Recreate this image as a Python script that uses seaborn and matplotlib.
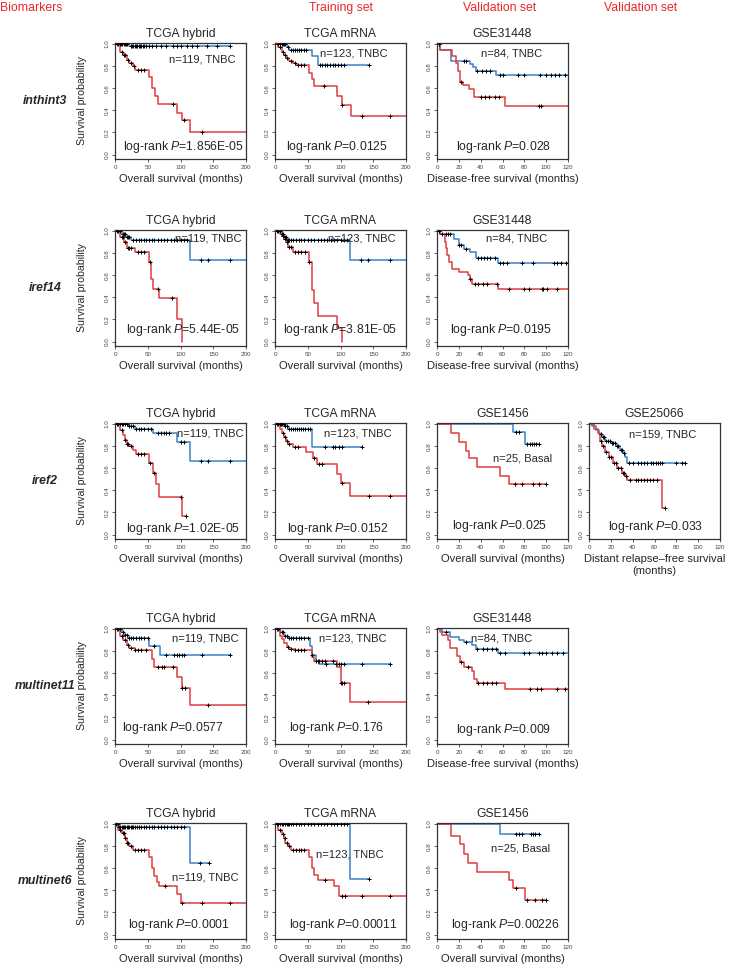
import numpy as np
import matplotlib
matplotlib.use("Agg")
import matplotlib.pyplot as plt
import seaborn as sns

# ---- data: step curves (time, survival), censor times ----
# inthint3
inth_hyb_blue_t = [0, 22, 175]
inth_hyb_blue_s = [1.0, 0.98, 0.98]
inth_hyb_blue_c = [3, 5, 7, 9, 11, 13, 15, 17, 19, 24, 26, 28, 30, 32, 34, 36, 38, 40, 42, 45, 48, 52, 56, 62, 70, 78, 88, 95, 100, 110, 118, 125, 140, 155, 175]
inth_hyb_red_t = [0, 8, 12, 18, 22, 27, 31, 52, 56, 61, 66, 94, 102, 115, 200]
inth_hyb_red_s = [1.0, 0.93, 0.90, 0.86, 0.83, 0.80, 0.77, 0.70, 0.60, 0.53, 0.46, 0.38, 0.31, 0.20, 0.20]
inth_hyb_red_c = [10, 14, 16, 20, 24, 29, 35, 40, 45, 88, 105, 133]

inth_mrna_blue_t = [0, 18, 22, 56, 66, 143]
inth_mrna_blue_s = [1.0, 0.97, 0.95, 0.89, 0.81, 0.81]
inth_mrna_blue_c = [5, 8, 10, 12, 14, 16, 20, 24, 27, 30, 33, 36, 40, 44, 48, 68, 72, 76, 80, 84, 88, 92, 96, 100, 105, 143]
inth_mrna_red_t = [0, 5, 10, 13, 17, 22, 27, 32, 52, 56, 60, 95, 102, 116, 200]
inth_mrna_red_s = [1.0, 0.97, 0.93, 0.90, 0.87, 0.85, 0.83, 0.81, 0.74, 0.68, 0.62, 0.53, 0.45, 0.35, 0.35]
inth_mrna_red_c = [8, 12, 15, 19, 24, 30, 35, 40, 45, 75, 103, 133, 175]

inth_gse_blue_t = [0, 3, 13, 30, 33, 36, 54, 120]
inth_gse_blue_s = [1.0, 0.95, 0.85, 0.82, 0.79, 0.76, 0.72, 0.72]
inth_gse_blue_c = [2, 25, 27, 37, 41, 45, 49, 58, 60, 74, 80, 94, 100, 104, 108, 112, 117]
inth_gse_red_t = [0, 3, 14, 17, 19, 21, 24, 29, 34, 62, 120]
inth_gse_red_s = [1.0, 0.95, 0.89, 0.83, 0.76, 0.66, 0.63, 0.59, 0.52, 0.44, 0.44]
inth_gse_red_c = [2, 22, 40, 44, 48, 53, 57, 93, 95]

# iref14
iref14_hyb_blue_t = [0, 10, 17, 25, 115, 200]
iref14_hyb_blue_s = [1.0, 0.97, 0.95, 0.92, 0.74, 0.74]
iref14_hyb_blue_c = [3, 5, 8, 12, 14, 16, 18, 20, 22, 28, 32, 36, 40, 44, 48, 52, 56, 60, 65, 70, 75, 80, 85, 90, 95, 100, 105, 110, 132, 142, 175]
iref14_hyb_red_t = [0, 8, 14, 18, 30, 52, 55, 58, 67, 94, 102]
iref14_hyb_red_s = [1.0, 0.95, 0.90, 0.85, 0.81, 0.72, 0.57, 0.48, 0.39, 0.20, 0.0]
iref14_hyb_red_c = [10, 12, 15, 20, 22, 25, 35, 40, 45, 53, 65, 87]

iref14_mrna_blue_t = [0, 8, 14, 18, 115, 200]
iref14_mrna_blue_s = [1.0, 0.97, 0.95, 0.92, 0.74, 0.74]
iref14_mrna_blue_c = [3, 5, 7, 10, 12, 15, 17, 20, 22, 25, 28, 32, 36, 40, 45, 50, 55, 60, 65, 70, 75, 80, 85, 90, 95, 100, 105, 110, 132, 142, 175]
iref14_mrna_red_t = [0, 10, 14, 18, 20, 28, 52, 56, 60, 66, 95, 102]
iref14_mrna_red_s = [1.0, 0.96, 0.93, 0.90, 0.86, 0.81, 0.72, 0.47, 0.35, 0.23, 0.12, 0.0]
iref14_mrna_red_c = [12, 16, 19, 22, 25, 31, 35, 40, 46, 52]

iref14_gse_blue_t = [0, 3, 16, 20, 25, 30, 36, 56, 120]
iref14_gse_blue_s = [1.0, 0.97, 0.93, 0.87, 0.84, 0.81, 0.76, 0.71, 0.71]
iref14_gse_blue_c = [2, 5, 8, 10, 12, 20, 22, 27, 38, 40, 43, 46, 49, 53, 58, 60, 64, 78, 88, 107, 110, 114, 118]
iref14_gse_red_t = [0, 3, 7, 8, 9, 11, 14, 20, 28, 30, 32, 56, 120]
iref14_gse_red_s = [1.0, 0.97, 0.90, 0.85, 0.78, 0.72, 0.66, 0.63, 0.60, 0.57, 0.52, 0.48, 0.48]
iref14_gse_red_c = [2, 30, 35, 38, 42, 46, 55, 66, 80, 84, 96, 97, 101, 110]

# iref2
iref2_hyb_blue_t = [0, 20, 30, 58, 95, 115, 200]
iref2_hyb_blue_s = [1.0, 0.98, 0.96, 0.92, 0.84, 0.67, 0.67]
iref2_hyb_blue_c = [3, 5, 8, 10, 12, 15, 18, 22, 25, 28, 32, 36, 40, 45, 50, 55, 65, 70, 75, 78, 82, 100, 105, 132, 142, 175]
iref2_hyb_red_t = [0, 7, 12, 15, 18, 22, 27, 32, 52, 58, 62, 67, 103, 108]
iref2_hyb_red_s = [1.0, 0.95, 0.90, 0.86, 0.82, 0.80, 0.77, 0.73, 0.65, 0.56, 0.46, 0.34, 0.17, 0.17]
iref2_hyb_red_c = [10, 15, 18, 20, 25, 35, 40, 45, 53, 60, 100, 108]

iref2_mrna_blue_t = [0, 14, 20, 56, 133]
iref2_mrna_blue_s = [1.0, 0.98, 0.96, 0.79, 0.79]
iref2_mrna_blue_c = [3, 5, 7, 9, 11, 13, 16, 18, 22, 25, 28, 31, 34, 37, 40, 43, 46, 50, 54, 77, 88, 92, 97, 102, 133]
iref2_mrna_red_t = [0, 7, 10, 13, 17, 20, 28, 47, 58, 64, 95, 100, 115, 200]
iref2_mrna_red_s = [1.0, 0.96, 0.92, 0.88, 0.85, 0.82, 0.79, 0.75, 0.69, 0.64, 0.55, 0.47, 0.35, 0.35]
iref2_mrna_red_c = [12, 15, 18, 22, 30, 35, 60, 67, 72, 103, 143, 175]

iref2_g1456_blue_t = [0, 70, 81, 93]
iref2_g1456_blue_s = [1.0, 0.93, 0.82, 0.82]
iref2_g1456_blue_c = [72, 75, 82, 85, 87, 89, 91, 93]
iref2_g1456_red_t = [0, 13, 20, 27, 29, 37, 58, 66, 100]
iref2_g1456_red_s = [1.0, 0.92, 0.84, 0.76, 0.69, 0.61, 0.53, 0.46, 0.46]
iref2_g1456_red_c = [71, 78, 88, 93, 100]

iref2_g25066_blue_t = [0, 3, 6, 9, 12, 15, 20, 25, 28, 31, 33, 35, 88]
iref2_g25066_blue_s = [1.0, 0.98, 0.95, 0.91, 0.88, 0.85, 0.83, 0.80, 0.77, 0.74, 0.70, 0.65, 0.65]
iref2_g25066_blue_c = [11, 13, 14, 16, 17, 19, 21, 22, 24, 26, 27, 29, 30, 32, 37, 40, 45, 48, 50, 53, 57, 59, 61, 63, 65, 67, 80, 85, 88]
iref2_g25066_red_t = [0, 5, 8, 10, 12, 15, 18, 22, 26, 30, 33, 35, 67, 70]
iref2_g25066_red_s = [1.0, 0.96, 0.92, 0.85, 0.80, 0.75, 0.70, 0.65, 0.60, 0.56, 0.53, 0.49, 0.24, 0.24]
iref2_g25066_red_c = [11, 13, 16, 18, 20, 23, 25, 27, 29, 31, 32, 34, 38, 43, 45, 48, 50, 53, 56, 59, 62, 70]

# multinet11
mn11_hyb_blue_t = [0, 10, 13, 20, 52, 68, 175]
mn11_hyb_blue_s = [1.0, 0.97, 0.95, 0.92, 0.85, 0.77, 0.77]
mn11_hyb_blue_c = [3, 5, 8, 12, 15, 18, 22, 25, 28, 32, 36, 40, 45, 50, 60, 78, 90, 95, 98, 102, 106, 133, 175]
mn11_hyb_red_t = [0, 7, 12, 18, 22, 30, 56, 60, 95, 102, 115, 200]
mn11_hyb_red_s = [1.0, 0.94, 0.90, 0.86, 0.83, 0.81, 0.73, 0.66, 0.57, 0.47, 0.31, 0.31]
mn11_hyb_red_c = [10, 15, 20, 25, 30, 35, 40, 48, 65, 72, 75, 88, 103, 107, 142]

mn11_mrna_blue_t = [0, 8, 14, 20, 53, 57, 62, 67, 175]
mn11_mrna_blue_s = [1.0, 0.97, 0.94, 0.92, 0.85, 0.77, 0.71, 0.68, 0.68]
mn11_mrna_blue_c = [3, 5, 10, 12, 16, 18, 22, 25, 28, 32, 36, 40, 45, 50, 57, 65, 78, 93, 97, 100, 105, 133, 175]
mn11_mrna_red_t = [0, 7, 10, 14, 18, 22, 30, 56, 60, 95, 100, 115, 200]
mn11_mrna_red_s = [1.0, 0.94, 0.91, 0.87, 0.84, 0.82, 0.81, 0.75, 0.71, 0.66, 0.51, 0.34, 0.34]
mn11_mrna_red_c = [20, 25, 30, 35, 40, 45, 62, 67, 72, 77, 88, 100, 103, 105, 142]

mn11_gse_blue_t = [0, 3, 12, 20, 25, 32, 36, 56, 120]
mn11_gse_blue_s = [1.0, 0.97, 0.93, 0.90, 0.88, 0.86, 0.82, 0.78, 0.78]
mn11_gse_blue_c = [8, 27, 37, 42, 46, 50, 54, 58, 62, 80, 84, 93, 96, 100, 105, 110, 115]
mn11_gse_red_t = [0, 5, 10, 12, 18, 21, 25, 32, 34, 37, 62, 120]
mn11_gse_red_s = [1.0, 0.95, 0.90, 0.83, 0.76, 0.70, 0.66, 0.62, 0.55, 0.51, 0.46, 0.46]
mn11_gse_red_c = [22, 28, 38, 42, 46, 50, 54, 85, 92, 95, 110, 117]

# multinet6
mn6_hyb_blue_t = [0, 5, 115, 143]
mn6_hyb_blue_s = [1.0, 0.97, 0.65, 0.65]
mn6_hyb_blue_c = [2, 4, 6, 8, 10, 12, 14, 16, 18, 20, 22, 24, 26, 28, 30, 33, 36, 40, 44, 48, 52, 56, 60, 65, 70, 75, 80, 85, 90, 95, 100, 105, 130, 143]
mn6_hyb_red_t = [0, 5, 10, 15, 18, 22, 28, 52, 57, 60, 64, 67, 95, 101, 200]
mn6_hyb_red_s = [1.0, 0.95, 0.92, 0.87, 0.83, 0.80, 0.77, 0.70, 0.60, 0.53, 0.48, 0.44, 0.37, 0.29, 0.29]
mn6_hyb_red_c = [8, 12, 14, 16, 18, 20, 24, 30, 35, 40, 45, 76, 102, 133, 175]

mn6_mrna_blue_t = [0, 115, 143]
mn6_mrna_blue_s = [1.0, 0.50, 0.50]
mn6_mrna_blue_c = [3, 5, 8, 10, 12, 15, 18, 20, 22, 25, 28, 32, 36, 40, 45, 50, 55, 60, 65, 70, 75, 80, 85, 90, 95, 100, 105, 110, 143]
mn6_mrna_red_t = [0, 5, 10, 13, 16, 20, 25, 52, 56, 60, 66, 90, 98, 200]
mn6_mrna_red_s = [1.0, 0.95, 0.91, 0.87, 0.83, 0.80, 0.77, 0.70, 0.60, 0.54, 0.49, 0.44, 0.35, 0.35]
mn6_mrna_red_c = [8, 12, 15, 18, 22, 28, 32, 36, 40, 45, 76, 102, 107, 133, 175]

mn6_g1456_blue_t = [0, 58, 93]
mn6_g1456_blue_s = [1.0, 0.91, 0.91]
mn6_g1456_blue_c = [72, 75, 78, 86, 88, 90, 93]
mn6_g1456_red_t = [0, 13, 21, 25, 28, 37, 66, 70, 81, 100]
mn6_g1456_red_s = [1.0, 0.89, 0.82, 0.73, 0.65, 0.57, 0.49, 0.42, 0.31, 0.31]
mn6_g1456_red_c = [72, 82, 90, 96, 100]

biomarkers = ["inthint3", "iref14", "iref2", "multinet11", "multinet6"]
headers = ["Biomarkers", "Training set", "Validation set", "Validation set"]

OS = "Overall survival (months)"
DFS = "Disease-free survival (months)"
DRFS = "Distant relapse\u2013free survival\n(months)"

# row, col, title, xmax, xlabel, curves, n-text (text, x, y), logrank (p, x, y)
panels = [
    (0, 0, "TCGA hybrid", 200, OS, (inth_hyb_blue_t, inth_hyb_blue_s, inth_hyb_blue_c, inth_hyb_red_t, inth_hyb_red_s, inth_hyb_red_c), ("n=119, TNBC", 0.92, 0.86), ("1.856E-05", 0.52, 0.10)),
    (0, 1, "TCGA mRNA", 200, OS, (inth_mrna_blue_t, inth_mrna_blue_s, inth_mrna_blue_c, inth_mrna_red_t, inth_mrna_red_s, inth_mrna_red_c), ("n=123, TNBC", 0.86, 0.91), ("0.0125", 0.47, 0.10)),
    (0, 2, "GSE31448", 120, DFS, (inth_gse_blue_t, inth_gse_blue_s, inth_gse_blue_c, inth_gse_red_t, inth_gse_red_s, inth_gse_red_c), ("n=84, TNBC", 0.80, 0.91), ("0.028", 0.51, 0.10)),
    (1, 0, "TCGA hybrid", 200, OS, (iref14_hyb_blue_t, iref14_hyb_blue_s, iref14_hyb_blue_c, iref14_hyb_red_t, iref14_hyb_red_s, iref14_hyb_red_c), ("n=119, TNBC", 0.97, 0.93), ("5.44E-05", 0.52, 0.14)),
    (1, 1, "TCGA mRNA", 200, OS, (iref14_mrna_blue_t, iref14_mrna_blue_s, iref14_mrna_blue_c, iref14_mrna_red_t, iref14_mrna_red_s, iref14_mrna_red_c), ("n=123, TNBC", 0.92, 0.93), ("3.81E-05", 0.50, 0.14)),
    (1, 2, "GSE31448", 120, DFS, (iref14_gse_blue_t, iref14_gse_blue_s, iref14_gse_blue_c, iref14_gse_red_t, iref14_gse_red_s, iref14_gse_red_c), ("n=84, TNBC", 0.84, 0.93), ("0.0195", 0.49, 0.14)),
    (2, 0, "TCGA hybrid", 200, OS, (iref2_hyb_blue_t, iref2_hyb_blue_s, iref2_hyb_blue_c, iref2_hyb_red_t, iref2_hyb_red_s, iref2_hyb_red_c), ("n=119, TNBC", 0.98, 0.91), ("1.02E-05", 0.52, 0.09)),
    (2, 1, "TCGA mRNA", 200, OS, (iref2_mrna_blue_t, iref2_mrna_blue_s, iref2_mrna_blue_c, iref2_mrna_red_t, iref2_mrna_red_s, iref2_mrna_red_c), ("n=123, TNBC", 0.89, 0.91), ("0.0152", 0.48, 0.09)),
    (2, 2, "GSE1456", 120, OS, (iref2_g1456_blue_t, iref2_g1456_blue_s, iref2_g1456_blue_c, iref2_g1456_red_t, iref2_g1456_red_s, iref2_g1456_red_c), ("n=25, Basal", 0.88, 0.69), ("0.025", 0.48, 0.11)),
    (2, 3, "GSE25066", 120, DRFS, (iref2_g25066_blue_t, iref2_g25066_blue_s, iref2_g25066_blue_c, iref2_g25066_red_t, iref2_g25066_red_s, iref2_g25066_red_c), ("n=159, TNBC", 0.82, 0.90), ("0.033", 0.51, 0.10)),
    (3, 0, "TCGA hybrid", 200, OS, (mn11_hyb_blue_t, mn11_hyb_blue_s, mn11_hyb_blue_c, mn11_hyb_red_t, mn11_hyb_red_s, mn11_hyb_red_c), ("n=119, TNBC", 0.94, 0.91), ("0.0577", 0.44, 0.14)),
    (3, 1, "TCGA mRNA", 200, OS, (mn11_mrna_blue_t, mn11_mrna_blue_s, mn11_mrna_blue_c, mn11_mrna_red_t, mn11_mrna_red_s, mn11_mrna_red_c), ("n=123, TNBC", 0.85, 0.91), ("0.176", 0.47, 0.14)),
    (3, 2, "GSE31448", 120, DFS, (mn11_gse_blue_t, mn11_gse_blue_s, mn11_gse_blue_c, mn11_gse_red_t, mn11_gse_red_s, mn11_gse_red_c), ("n=84, TNBC", 0.73, 0.91), ("0.009", 0.51, 0.12)),
    (4, 0, "TCGA hybrid", 200, OS, (mn6_hyb_blue_t, mn6_hyb_blue_s, mn6_hyb_blue_c, mn6_hyb_red_t, mn6_hyb_red_s, mn6_hyb_red_c), ("n=119, TNBC", 0.94, 0.53), ("0.0001", 0.49, 0.12)),
    (4, 1, "TCGA mRNA", 200, OS, (mn6_mrna_blue_t, mn6_mrna_blue_s, mn6_mrna_blue_c, mn6_mrna_red_t, mn6_mrna_red_s, mn6_mrna_red_c), ("n=123, TNBC", 0.83, 0.73), ("0.00011", 0.52, 0.12)),
    (4, 2, "GSE1456", 120, OS, (mn6_g1456_blue_t, mn6_g1456_blue_s, mn6_g1456_blue_c, mn6_g1456_red_t, mn6_g1456_red_s, mn6_g1456_red_c), ("n=25, Basal", 0.86, 0.78), ("0.00226", 0.52, 0.12)),
]

sns.set_style("ticks")
plt.rcParams["font.family"] = ["Liberation Sans", "DejaVu Sans"]
plt.rcParams["mathtext.fontset"] = "custom"
plt.rcParams["mathtext.rm"] = "Liberation Sans"
plt.rcParams["mathtext.it"] = "Liberation Sans:italic"

W, H = 729, 966
fig = plt.figure(figsize=(W / 100, H / 100), dpi=100)

col_left = [115, 275, 437, 589]
row_top = [43, 230, 423, 628, 823]
aw, ah = 131, 116
RED = "#e03c3f"
BLUE = "#3b82c8"
HEAD = "#e8262b"


def step_value(t, s, x):
    idx = np.searchsorted(t, x, side="right") - 1
    return np.asarray(s)[idx]


for row, col, title, xmax, xlabel, curves, ntext, lr in panels:
    ax = fig.add_axes([col_left[col] / W, 1 - (row_top[row] + ah) / H, aw / W, ah / H])
    bt, bs, bc, rt, rs, rc = curves
    sns.lineplot(x=bt, y=bs, drawstyle="steps-post", color=BLUE, lw=1.1, estimator=None, ax=ax)
    sns.lineplot(x=rt, y=rs, drawstyle="steps-post", color=RED, lw=1.1, estimator=None, ax=ax)
    for t, s, c in ((bt, bs, bc), (rt, rs, rc)):
        sns.scatterplot(x=c, y=step_value(t, s, c), marker="+", color="black", s=8,
                        linewidth=0.7, ax=ax, zorder=3)
    ax.set_xlim(0, xmax)
    ax.set_ylim(-0.04, 1.01)
    ax.set_xticks(np.arange(0, xmax + 1, 50 if xmax == 200 else 20))
    ax.set_yticks(np.arange(0, 1.01, 0.2))
    ax.set_yticklabels([f"{v:.1f}" for v in np.arange(0, 1.01, 0.2)], rotation=90, va="center")
    ax.tick_params(labelsize=4.5, length=2.5, width=0.6, pad=1.5, colors="#444444")
    for sp in ax.spines.values():
        sp.set_visible(True)
        sp.set_linewidth(0.9)
        sp.set_color("#333333")
    ax.set_title(title, fontsize=8.7, pad=4)
    ax.set_xlabel(xlabel, fontsize=8, labelpad=3, linespacing=1.3)
    if col == 0:
        ax.set_ylabel("Survival probability", fontsize=7.6)
        ax.yaxis.set_label_coords(-0.21, 0.5)
    else:
        ax.set_ylabel("")
    ax.text(ntext[1], ntext[2], ntext[0], transform=ax.transAxes, ha="right", va="center", fontsize=8)
    ax.text(lr[1], lr[2], "log-rank $P$=" + lr[0], transform=ax.transAxes, ha="center",
            va="center", fontsize=8.8)

for i, name in enumerate(biomarkers):
    yc = 1 - (row_top[i] + ah / 2) / H
    fig.text(45 / W, yc, name, ha="center", va="center", fontsize=8.8,
             fontweight="bold", fontstyle="italic")

header_x = [0, 341, 500, 641]
for i, h in enumerate(headers):
    fig.text(header_x[i] / W, 1 - 8 / H, h, ha="left" if i == 0 else "center", va="center",
             fontsize=8.8, color=HEAD)

fig.savefig("out.png", dpi=100)
